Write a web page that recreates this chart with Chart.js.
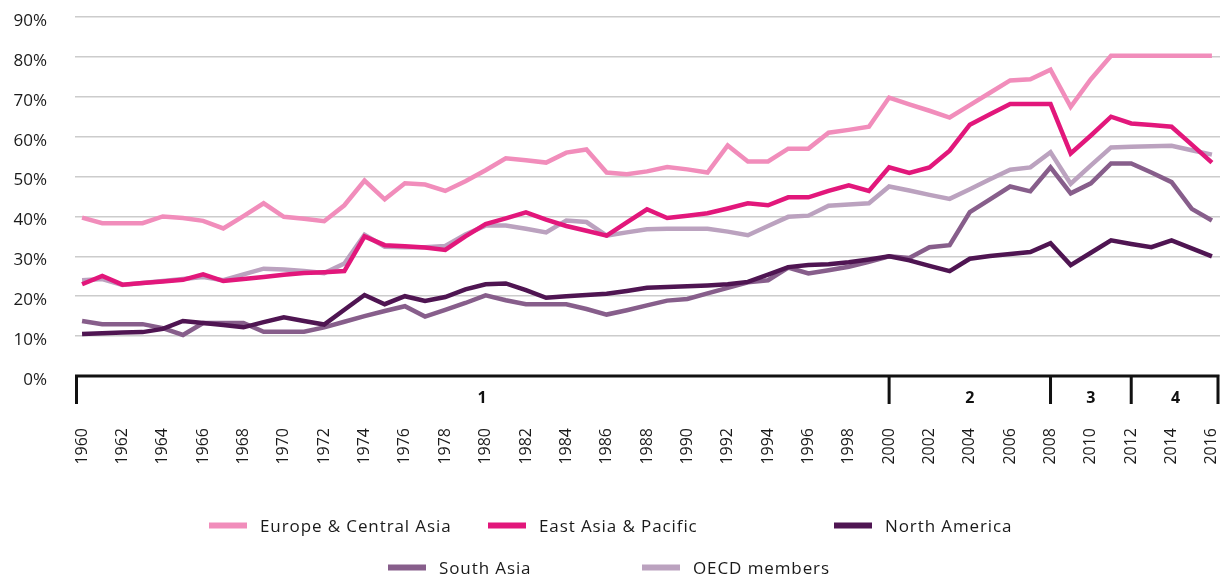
<!DOCTYPE html>
<html>
<head>
<meta charset="utf-8">
<script src="https://cdn.jsdelivr.net/npm/chart.js@4.4.1/dist/chart.umd.min.js"></script>
<style>
  html, body { margin: 0; padding: 0; background: #fff; }
  #wrap { position: relative; width: 1227px; height: 575px; }
  #chart { display: block; }
  .legend-item {
    position: absolute;
    display: flex;
    align-items: center;
    font-family: 'Open Sans', sans-serif;
    font-size: 17px;
    letter-spacing: 0.9px;
    color: #1a1a1a;
    white-space: nowrap;
    transform: translateY(-50%);
  }
  .legend-item span.swatch { display: inline-block; width: 38px; height: 6px; margin-right: 13px; }
</style>
</head>
<body>
<div id="wrap">
  <canvas id="chart" width="1227" height="575"></canvas>
</div>
<script>
const years = [];
for (let y = 1960; y <= 2016; y++) years.push(y);

const yearTicks = [1960, 1962, 1964, 1966, 1968, 1970, 1972, 1974, 1976, 1978, 1980, 1982, 1984, 1986,
  1988, 1990, 1992, 1994, 1996, 1998, 2000, 2002, 2004, 2006, 2008, 2010, 2012, 2014, 2016];
const percentTicks = [0, 10, 20, 30, 40, 50, 60, 70, 80, 90];

// period bracket under the axis
const periodBreaks = [2000, 2008, 2012];
const periodLabels = ['1', '2', '3', '4'];

const europeCentralAsia = [
  39.7, 38.3, 38.3, 38.3, 40.0, 39.6, 38.9, 37.0, 40.1, 43.3,
  39.9, 39.4, 38.8, 42.8, 49.0, 44.3, 48.3, 48.0, 46.4, 48.8,
  51.6, 54.6, 54.1, 53.5, 56.0, 56.8, 51.0, 50.6, 51.3, 52.4,
  51.8, 51.0, 57.8, 53.8, 53.8, 57.0, 57.0, 61.0, 61.7, 62.5,
  69.8, 68.1, 66.5, 64.8, 67.9, 71.0, 74.1, 74.4, 76.8, 67.5,
  74.4, 80.3, 80.3, 80.3, 80.3, 80.3, 80.3
];
const eastAsiaPacific = [
  23.0, 25.1, 22.9, 23.3, 23.7, 24.1, 25.5, 23.8, 24.3, 24.8,
  25.4, 25.8, 26.0, 26.3, 35.0, 32.8, 32.5, 32.2, 31.6, 35.0,
  38.1, 39.5, 41.0, 39.2, 37.6, 36.4, 35.2, 38.5, 41.8, 39.6,
  40.2, 40.8, 42.0, 43.3, 42.8, 44.8, 44.8, 46.4, 47.8, 46.4,
  52.3, 50.9, 52.3, 56.5, 63.0, 65.6, 68.2, 68.2, 68.2, 55.8,
  60.3, 65.0, 63.3, 62.9, 62.5, 58.0, 53.5
];
const northAmerica = [
  10.5, 10.7, 10.9, 11.0, 11.8, 13.8, 13.3, 12.8, 12.2, 13.5,
  14.7, 13.8, 12.9, 16.6, 20.3, 18.0, 20.0, 18.8, 19.8, 21.7,
  23.0, 23.2, 21.5, 19.6, 20.0, 20.3, 20.6, 21.3, 22.1, 22.3,
  22.5, 22.7, 23.0, 23.6, 25.4, 27.3, 27.8, 28.0, 28.5, 29.2,
  30.0, 29.0, 27.6, 26.3, 29.4, 30.1, 30.6, 31.1, 33.3, 27.8,
  30.9, 34.0, 33.1, 32.3, 34.0, 32.0, 30.0
];
const southAsia = [
  13.8, 13.0, 13.0, 13.0, 12.0, 10.3, 13.3, 13.3, 13.3, 11.1,
  11.1, 11.1, 12.2, 13.6, 15.0, 16.3, 17.5, 14.9, 16.6, 18.3,
  20.2, 19.0, 18.0, 18.0, 18.0, 16.8, 15.4, 16.5, 17.7, 18.9,
  19.3, 20.7, 22.1, 23.5, 24.0, 27.2, 25.7, 26.5, 27.4, 28.6,
  30.0, 29.6, 32.3, 32.8, 41.1, 44.3, 47.5, 46.3, 52.3, 45.8,
  48.3, 53.3, 53.3, 51.0, 48.6, 41.9, 39.0
];
const oecdMembers = [
  24.0, 24.3, 22.8, 23.3, 23.8, 24.3, 24.8, 24.0, 25.5, 26.9,
  26.7, 26.3, 25.8, 28.2, 35.4, 32.4, 32.3, 32.3, 32.6, 35.5,
  37.7, 37.7, 36.9, 36.0, 39.0, 38.6, 35.2, 36.0, 36.8, 36.9,
  36.9, 36.9, 36.2, 35.3, 37.6, 39.9, 40.2, 42.7, 43.0, 43.3,
  47.5, 46.5, 45.4, 44.4, 46.8, 49.3, 51.7, 52.3, 56.1, 48.2,
  52.8, 57.3, 57.5, 57.6, 57.7, 56.6, 55.5
];

const seriesNames = ['Europe & Central Asia', 'East Asia & Pacific', 'North America', 'South Asia', 'OECD members'];
const seriesValues = [europeCentralAsia, eastAsiaPacific, northAmerica, southAsia, oecdMembers];
const seriesColors = ['#f18dbb', '#e2177b', '#4f1552', '#875e8b', '#bba2bf'];

// legend layout (two rows, like the original)
const legendRows = [
  { top: 525, items: [[0, 209], [1, 488], [2, 834]] },
  { top: 567, items: [[3, 388], [4, 642]] }
];

const textColor = '#1a1a1a';
const fontFamily = "'Open Sans', sans-serif";

const periodBracket = {
  id: 'periodBracket',
  afterDraw(chart) {
    const { ctx, chartArea } = chart;
    const x = chart.scales.x;
    const top = chartArea.bottom;
    const bottom = top + 28;
    ctx.save();
    ctx.strokeStyle = '#111';
    ctx.lineWidth = 3;
    ctx.lineCap = 'butt';
    ctx.beginPath();
    ctx.moveTo(chartArea.left + 1.5, bottom);
    ctx.lineTo(chartArea.left + 1.5, top);
    ctx.lineTo(chartArea.right - 2, top);
    ctx.lineTo(chartArea.right - 2, bottom);
    periodBreaks.forEach(yr => {
      const px = x.getPixelForValue(yr);
      ctx.moveTo(px, top);
      ctx.lineTo(px, bottom);
    });
    ctx.stroke();

    const edges = [chartArea.left, ...periodBreaks.map(yr => x.getPixelForValue(yr)), chartArea.right];
    ctx.fillStyle = '#111';
    ctx.font = 'bold 16px ' + fontFamily;
    ctx.textAlign = 'center';
    ctx.textBaseline = 'middle';
    periodLabels.forEach((lab, i) => {
      ctx.fillText(lab, (edges[i] + edges[i + 1]) / 2, top + 22);
    });
    ctx.restore();
  }
};

Chart.defaults.font.family = fontFamily;
Chart.defaults.color = textColor;

const chart = new Chart(document.getElementById('chart').getContext('2d'), {
  type: 'line',
  data: {
    datasets: seriesNames.map((name, i) => ({
      label: name,
      data: years.map((yr, j) => ({ x: yr, y: seriesValues[i][j] })),
      borderColor: seriesColors[i],
      backgroundColor: seriesColors[i],
      borderWidth: 4.5,
      pointRadius: 0,
      tension: 0,
      fill: false
    }))
  },
  options: {
    responsive: false,
    animation: false,
    layout: { padding: { top: 17, right: 7, left: 0, bottom: 0 } },
    plugins: {
      legend: { display: false },
      tooltip: { enabled: false }
    },
    scales: {
      x: {
        type: 'linear',
        min: 1959.65,
        max: 2016.4,
        grid: { display: false, drawTicks: false },
        border: { display: false },
        afterBuildTicks: scale => { scale.ticks = yearTicks.map(v => ({ value: v })); },
        afterFit: scale => {
          scale.height = 199;
          scale.paddingLeft = 0;
          scale.paddingRight = 0;
        },
        ticks: {
          autoSkip: false,
          minRotation: 90,
          maxRotation: 90,
          padding: 52,
          color: textColor,
          font: { size: 16 },
          callback: v => String(v)
        }
      },
      y: {
        min: 0,
        max: 90,
        grid: { color: '#cccccc', lineWidth: 1.5, drawTicks: false },
        border: { display: false },
        afterBuildTicks: scale => { scale.ticks = percentTicks.map(v => ({ value: v })); },
        afterFit: scale => {
          scale.width = 75;
          scale.paddingTop = 0;
          scale.paddingBottom = 0;
        },
        ticks: {
          padding: 28,
          labelOffset: 4,
          color: textColor,
          font: { size: 17 },
          callback: v => v + '%'
        }
      }
    }
  },
  plugins: [periodBracket]
});

// HTML legend built from the same series arrays
const wrap = document.getElementById('wrap');
legendRows.forEach(row => {
  row.items.forEach(([idx, left]) => {
    const item = document.createElement('div');
    item.className = 'legend-item';
    item.style.left = left + 'px';
    item.style.top = row.top + 'px';
    const sw = document.createElement('span');
    sw.className = 'swatch';
    sw.style.background = seriesColors[idx];
    item.appendChild(sw);
    item.appendChild(document.createTextNode(seriesNames[idx]));
    wrap.appendChild(item);
  });
});
</script>
</body>
</html>
